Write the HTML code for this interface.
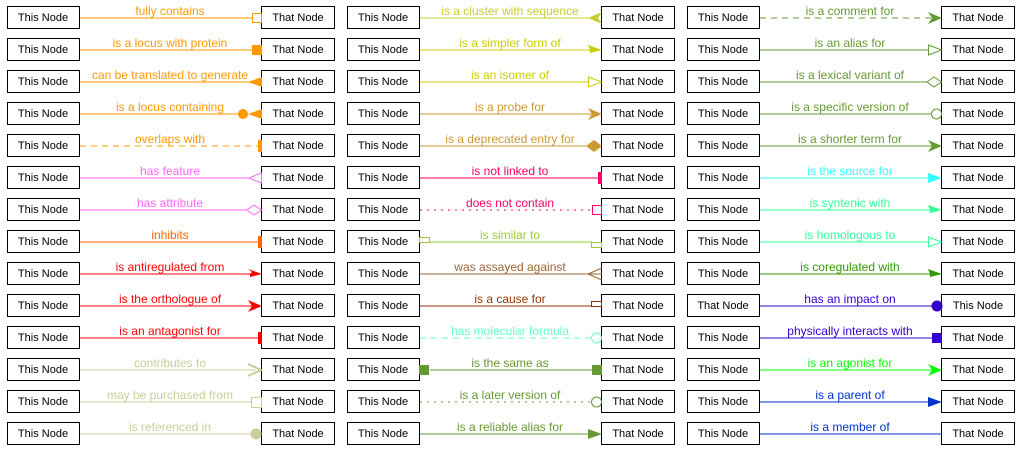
<!DOCTYPE html>
<html><head><meta charset="utf-8"><style>
html,body{margin:0;padding:0;background:#fff;}
svg{display:block;font-family:"Liberation Sans",Arial,sans-serif;}
.b{fill:#fff;stroke:#000;stroke-width:1;}
.n{font-size:11px;text-anchor:middle;fill:#000;}
.l{font-size:12px;text-anchor:middle;}
</style></head><body>
<svg width="1022" height="450" viewBox="0 0 1022 450" xmlns="http://www.w3.org/2000/svg">
<defs>
<g id="bx"><rect class="b" x="7.5" y="-10.5" width="72" height="22"/><rect class="b" x="261.5" y="-10.5" width="73" height="22"/></g>
</defs>

<!-- COLUMN 1 -->
<g transform="translate(0,17)"><use href="#bx"/><text class="n" x="43" y="4">This Node</text><text class="n" x="298" y="4">That Node</text>
<line x1="80" y1="1" x2="252" y2="1" stroke="#f90"/><rect x="252.5" y="-3.5" width="9" height="9" fill="#fff" stroke="#f90"/><text class="l" x="170" y="-2" fill="#f90">fully contains</text></g>
<g transform="translate(0,49)"><use href="#bx"/><text class="n" x="43" y="4">This Node</text><text class="n" x="298" y="4">That Node</text>
<line x1="80" y1="1" x2="252" y2="1" stroke="#f90"/><rect x="252" y="-4" width="10" height="10" fill="#f90"/><text class="l" x="170" y="-2" fill="#f90">is a locus with protein</text></g>
<g transform="translate(0,81)"><use href="#bx"/><text class="n" x="43" y="4">This Node</text><text class="n" x="298" y="4">That Node</text>
<line x1="80" y1="1" x2="250" y2="1" stroke="#f90"/><polygon points="248,1 262,-4 262,6" fill="#f90"/><text class="l" x="170" y="-2" fill="#f90">can be translated to generate</text></g>
<g transform="translate(0,113)"><use href="#bx"/><text class="n" x="43" y="4">This Node</text><text class="n" x="298" y="4">That Node</text>
<line x1="80" y1="1" x2="240" y2="1" stroke="#f90"/><circle cx="243" cy="1" r="5" fill="#f90"/><polygon points="248,1 262,-4 262,6" fill="#f90"/><text class="l" x="170" y="-2" fill="#f90">is a locus containing</text></g>
<g transform="translate(0,145)"><use href="#bx"/><text class="n" x="43" y="4">This Node</text><text class="n" x="298" y="4">That Node</text>
<line x1="80" y1="1" x2="258" y2="1" stroke="#f90" stroke-dasharray="6,5"/><rect x="258" y="-5" width="4" height="12" fill="#f90"/><text class="l" x="170" y="-2" fill="#f90">overlaps with</text></g>
<g transform="translate(0,177)"><use href="#bx"/><text class="n" x="43" y="4">This Node</text><text class="n" x="298" y="4">That Node</text>
<line x1="80" y1="1" x2="249" y2="1" stroke="#f6f"/><polygon points="249,1 261.5,-4 261.5,6" fill="#fff" stroke="#f6f"/><text class="l" x="170" y="-2" fill="#f6f">has feature</text></g>
<g transform="translate(0,209)"><use href="#bx"/><text class="n" x="43" y="4">This Node</text><text class="n" x="298" y="4">That Node</text>
<line x1="80" y1="1" x2="247" y2="1" stroke="#f6f"/><polygon points="247,1 254,-4 261.5,1 254,6" fill="#fff" stroke="#f6f"/><text class="l" x="170" y="-2" fill="#f6f">has attribute</text></g>
<g transform="translate(0,241)"><use href="#bx"/><text class="n" x="43" y="4">This Node</text><text class="n" x="298" y="4">That Node</text>
<line x1="80" y1="1" x2="258" y2="1" stroke="#f60"/><rect x="258" y="-5" width="4" height="12" fill="#f60"/><text class="l" x="170" y="-2" fill="#f60">inhibits</text></g>
<g transform="translate(0,273)"><use href="#bx"/><text class="n" x="43" y="4">This Node</text><text class="n" x="298" y="4">That Node</text>
<line x1="80" y1="1" x2="260" y2="1" stroke="#f00"/><polygon points="248,-4 262,1 250,1 252,-1" fill="#f00"/><polygon points="250,1 262,1 250,4" fill="#f00"/><text class="l" x="170" y="-2" fill="#f00">is antiregulated from</text></g>
<g transform="translate(0,305)"><use href="#bx"/><text class="n" x="43" y="4">This Node</text><text class="n" x="298" y="4">That Node</text>
<line x1="80" y1="1" x2="254" y2="1" stroke="#f00"/><polygon points="248,-5 262,1 248,7 252,1" fill="#f00"/><text class="l" x="170" y="-2" fill="#f00">is the orthologue of</text></g>
<g transform="translate(0,337)"><use href="#bx"/><text class="n" x="43" y="4">This Node</text><text class="n" x="298" y="4">That Node</text>
<line x1="80" y1="1" x2="258" y2="1" stroke="#f00"/><rect x="258" y="-5" width="4" height="12" fill="#f00"/><text class="l" x="170" y="-2" fill="#f00">is an antagonist for</text></g>
<g transform="translate(0,369)"><use href="#bx"/><text class="n" x="43" y="4">This Node</text><text class="n" x="298" y="4">That Node</text>
<line x1="80" y1="1" x2="256" y2="1" stroke="#cc9"/><polyline points="248,-5 261,1 248,7" fill="none" stroke="#cc9" stroke-width="2"/><text class="l" x="170" y="-2" fill="#cc9">contributes to</text></g>
<g transform="translate(0,401)"><use href="#bx"/><text class="n" x="43" y="4">This Node</text><text class="n" x="298" y="4">That Node</text>
<line x1="80" y1="1" x2="252" y2="1" stroke="#cc9"/><rect x="251.5" y="-3.5" width="10" height="10" fill="#fff" stroke="#cc9"/><text class="l" x="170" y="-2" fill="#cc9">may be purchased from</text></g>
<g transform="translate(0,433)"><use href="#bx"/><text class="n" x="43" y="4">This Node</text><text class="n" x="298" y="4">That Node</text>
<line x1="80" y1="1" x2="252" y2="1" stroke="#cc9"/><circle cx="256" cy="1" r="5.5" fill="#cc9"/><text class="l" x="170" y="-2" fill="#cc9">is referenced in</text></g>

<!-- COLUMN 2 -->
<g transform="translate(340,17)"><use href="#bx"/><text class="n" x="43" y="4">This Node</text><text class="n" x="298" y="4">That Node</text>
<line x1="80" y1="1" x2="252" y2="1" stroke="#cc3"/><polygon points="262,-5 248,1 262,7 258,1" fill="#cc3"/><text class="l" x="170" y="-2" fill="#cc3">is a cluster with sequence</text></g>
<g transform="translate(340,49)"><use href="#bx"/><text class="n" x="43" y="4">This Node</text><text class="n" x="298" y="4">That Node</text>
<line x1="80" y1="1" x2="260" y2="1" stroke="#cc0"/><polygon points="248,-4 262,1 250,1" fill="#cc0"/><polygon points="250,1 262,1 250,4" fill="#cc0"/><text class="l" x="170" y="-2" fill="#cc0">is a simpler form of</text></g>
<g transform="translate(340,81)"><use href="#bx"/><text class="n" x="43" y="4">This Node</text><text class="n" x="298" y="4">That Node</text>
<line x1="80" y1="1" x2="248" y2="1" stroke="#cc0"/><polygon points="248.5,-4 261.5,1 248.5,6" fill="#fff" stroke="#cc0"/><text class="l" x="170" y="-2" fill="#cc0">is an isomer of</text></g>
<g transform="translate(340,113)"><use href="#bx"/><text class="n" x="43" y="4">This Node</text><text class="n" x="298" y="4">That Node</text>
<line x1="80" y1="1" x2="254" y2="1" stroke="#c93"/><polygon points="248,-5 262,1 248,7 252,1" fill="#c93"/><text class="l" x="170" y="-2" fill="#c93">is a probe for</text></g>
<g transform="translate(340,145)"><use href="#bx"/><text class="n" x="43" y="4">This Node</text><text class="n" x="298" y="4">That Node</text>
<line x1="80" y1="1" x2="246" y2="1" stroke="#c93"/><polygon points="246,1 254,-5 262,1 254,7" fill="#c93"/><text class="l" x="170" y="-2" fill="#c93">is a deprecated entry for</text></g>
<g transform="translate(340,177)"><use href="#bx"/><text class="n" x="43" y="4">This Node</text><text class="n" x="298" y="4">That Node</text>
<line x1="80" y1="1" x2="258" y2="1" stroke="#f06"/><rect x="258" y="-5" width="4" height="12" fill="#f06"/><text class="l" x="170" y="-2" fill="#f06">is not linked to</text></g>
<g transform="translate(340,209)"><use href="#bx"/><text class="n" x="43" y="4">This Node</text><text class="n" x="298" y="4">That Node</text>
<line x1="80" y1="1" x2="252" y2="1" stroke="#f06" stroke-dasharray="2,5"/><rect x="252.5" y="-3.5" width="9" height="9" fill="#fff" stroke="#f06"/><text class="l" x="170" y="-2" fill="#f06">does not contain</text></g>
<g transform="translate(340,241)"><use href="#bx"/><text class="n" x="43" y="4">This Node</text><text class="n" x="298" y="4">That Node</text>
<line x1="90" y1="1" x2="252" y2="1" stroke="#9c3"/><rect x="79.5" y="-3.5" width="10" height="5" fill="#fff" stroke="#9c3"/><rect x="251.5" y="1.5" width="10" height="5" fill="#fff" stroke="#9c3"/><text class="l" x="170" y="-2" fill="#9c3">is similar to</text></g>
<g transform="translate(340,273)"><use href="#bx"/><text class="n" x="43" y="4">This Node</text><text class="n" x="298" y="4">That Node</text>
<line x1="80" y1="1" x2="262" y2="1" stroke="#963"/><polyline points="262,-5 248,1 262,7" fill="none" stroke="#963"/><text class="l" x="170" y="-2" fill="#963">was assayed against</text></g>
<g transform="translate(340,305)"><use href="#bx"/><text class="n" x="43" y="4">This Node</text><text class="n" x="298" y="4">That Node</text>
<line x1="80" y1="1" x2="252" y2="1" stroke="#930"/><rect x="251.5" y="-3.5" width="10" height="5" fill="#fff" stroke="#930"/><text class="l" x="170" y="-2" fill="#930">is a cause for</text></g>
<g transform="translate(340,337)"><use href="#bx"/><text class="n" x="43" y="4">This Node</text><text class="n" x="298" y="4">That Node</text>
<line x1="80" y1="1" x2="251" y2="1" stroke="#6fc" stroke-dasharray="6,5"/><circle cx="256.5" cy="1" r="5" fill="#fff" stroke="#6fc"/><text class="l" x="170" y="-2" fill="#6fc">has molecular formula</text></g>
<g transform="translate(340,369)"><use href="#bx"/><text class="n" x="43" y="4">This Node</text><text class="n" x="298" y="4">That Node</text>
<line x1="90" y1="1" x2="252" y2="1" stroke="#693"/><rect x="79" y="-4" width="10" height="10" fill="#693"/><rect x="252" y="-4" width="10" height="10" fill="#693"/><text class="l" x="170" y="-2" fill="#693">is the same as</text></g>
<g transform="translate(340,401)"><use href="#bx"/><text class="n" x="43" y="4">This Node</text><text class="n" x="298" y="4">That Node</text>
<line x1="80" y1="1" x2="251" y2="1" stroke="#693" stroke-dasharray="2,5"/><circle cx="256.5" cy="1" r="5" fill="#fff" stroke="#693"/><text class="l" x="170" y="-2" fill="#693">is a later version of</text></g>
<g transform="translate(340,433)"><use href="#bx"/><text class="n" x="43" y="4">This Node</text><text class="n" x="298" y="4">That Node</text>
<line x1="80" y1="1" x2="248" y2="1" stroke="#693"/><polygon points="248,-4 262,1 248,6" fill="#693"/><text class="l" x="170" y="-2" fill="#693">is a reliable alias for</text></g>

<!-- COLUMN 3 -->
<g transform="translate(680,17)"><use href="#bx"/><text class="n" x="43" y="4">This Node</text><text class="n" x="298" y="4">That Node</text>
<line x1="80" y1="1" x2="254" y2="1" stroke="#693" stroke-dasharray="6,5"/><polygon points="248,-5 262,1 248,7 252,1" fill="#693"/><text class="l" x="170" y="-2" fill="#693">is a comment for</text></g>
<g transform="translate(680,49)"><use href="#bx"/><text class="n" x="43" y="4">This Node</text><text class="n" x="298" y="4">That Node</text>
<line x1="80" y1="1" x2="248" y2="1" stroke="#693"/><polygon points="248.5,-4 261.5,1 248.5,6" fill="#fff" stroke="#693"/><text class="l" x="170" y="-2" fill="#693">is an alias for</text></g>
<g transform="translate(680,81)"><use href="#bx"/><text class="n" x="43" y="4">This Node</text><text class="n" x="298" y="4">That Node</text>
<line x1="80" y1="1" x2="247" y2="1" stroke="#693"/><polygon points="247,1 254,-4 261.5,1 254,6" fill="#fff" stroke="#693"/><text class="l" x="170" y="-2" fill="#693">is a lexical variant of</text></g>
<g transform="translate(680,113)"><use href="#bx"/><text class="n" x="43" y="4">This Node</text><text class="n" x="298" y="4">That Node</text>
<line x1="80" y1="1" x2="251" y2="1" stroke="#693"/><circle cx="256.5" cy="1" r="5" fill="#fff" stroke="#693"/><text class="l" x="170" y="-2" fill="#693">is a specific version of</text></g>
<g transform="translate(680,145)"><use href="#bx"/><text class="n" x="43" y="4">This Node</text><text class="n" x="298" y="4">That Node</text>
<line x1="80" y1="1" x2="254" y2="1" stroke="#693"/><polygon points="248,-5 262,1 248,7 252,1" fill="#693"/><text class="l" x="170" y="-2" fill="#693">is a shorter term for</text></g>
<g transform="translate(680,177)"><use href="#bx"/><text class="n" x="43" y="4">This Node</text><text class="n" x="298" y="4">That Node</text>
<line x1="80" y1="1" x2="248" y2="1" stroke="#3ff"/><polygon points="248,-4 262,1 248,6" fill="#3ff"/><text class="l" x="170" y="-2" fill="#3ff">is the source for</text></g>
<g transform="translate(680,209)"><use href="#bx"/><text class="n" x="43" y="4">This Node</text><text class="n" x="298" y="4">That Node</text>
<line x1="80" y1="1" x2="260" y2="1" stroke="#3f9"/><polygon points="248,-4 262,1 250,1" fill="#3f9"/><polygon points="250,1 262,1 250,4" fill="#3f9"/><text class="l" x="170" y="-2" fill="#3f9">is syntenic with</text></g>
<g transform="translate(680,241)"><use href="#bx"/><text class="n" x="43" y="4">This Node</text><text class="n" x="298" y="4">That Node</text>
<line x1="80" y1="1" x2="248" y2="1" stroke="#3f9"/><polygon points="248.5,-4 261.5,1 248.5,6" fill="#fff" stroke="#3f9"/><text class="l" x="170" y="-2" fill="#3f9">is homologous to</text></g>
<g transform="translate(680,273)"><use href="#bx"/><text class="n" x="43" y="4">This Node</text><text class="n" x="298" y="4">That Node</text>
<line x1="80" y1="1" x2="260" y2="1" stroke="#390"/><polygon points="248,-4 262,1 250,1" fill="#390"/><polygon points="250,1 262,1 250,4" fill="#390"/><text class="l" x="170" y="-2" fill="#390">is coregulated with</text></g>
<g transform="translate(680,305)"><use href="#bx"/><text class="n" x="43" y="4">That Node</text><text class="n" x="298" y="4">This Node</text>
<line x1="80" y1="1" x2="252" y2="1" stroke="#30c"/><circle cx="257" cy="1" r="5.5" fill="#30c"/><text class="l" x="170" y="-2" fill="#30c">has an impact on</text></g>
<g transform="translate(680,337)"><use href="#bx"/><text class="n" x="43" y="4">This Node</text><text class="n" x="298" y="4">That Node</text>
<line x1="80" y1="1" x2="252" y2="1" stroke="#30c"/><rect x="252" y="-4" width="10" height="10" fill="#30c"/><text class="l" x="170" y="-2" fill="#30c">physically interacts with</text></g>
<g transform="translate(680,369)"><use href="#bx"/><text class="n" x="43" y="4">This Node</text><text class="n" x="298" y="4">That Node</text>
<line x1="80" y1="1" x2="254" y2="1" stroke="#0f0"/><polygon points="248,-5 262,1 248,7 252,1" fill="#0f0"/><text class="l" x="170" y="-2" fill="#0f0">is an agonist for</text></g>
<g transform="translate(680,401)"><use href="#bx"/><text class="n" x="43" y="4">This Node</text><text class="n" x="298" y="4">That Node</text>
<line x1="80" y1="1" x2="248" y2="1" stroke="#03c"/><polygon points="248,-4 262,1 248,6" fill="#03c"/><text class="l" x="170" y="-2" fill="#03c">is a parent of</text></g>
<g transform="translate(680,433)"><use href="#bx"/><text class="n" x="43" y="4">This Node</text><text class="n" x="298" y="4">That Node</text>
<line x1="80" y1="1" x2="262" y2="1" stroke="#03c"/><text class="l" x="170" y="-2" fill="#03c">is a member of</text></g>
</svg>
</body></html>
